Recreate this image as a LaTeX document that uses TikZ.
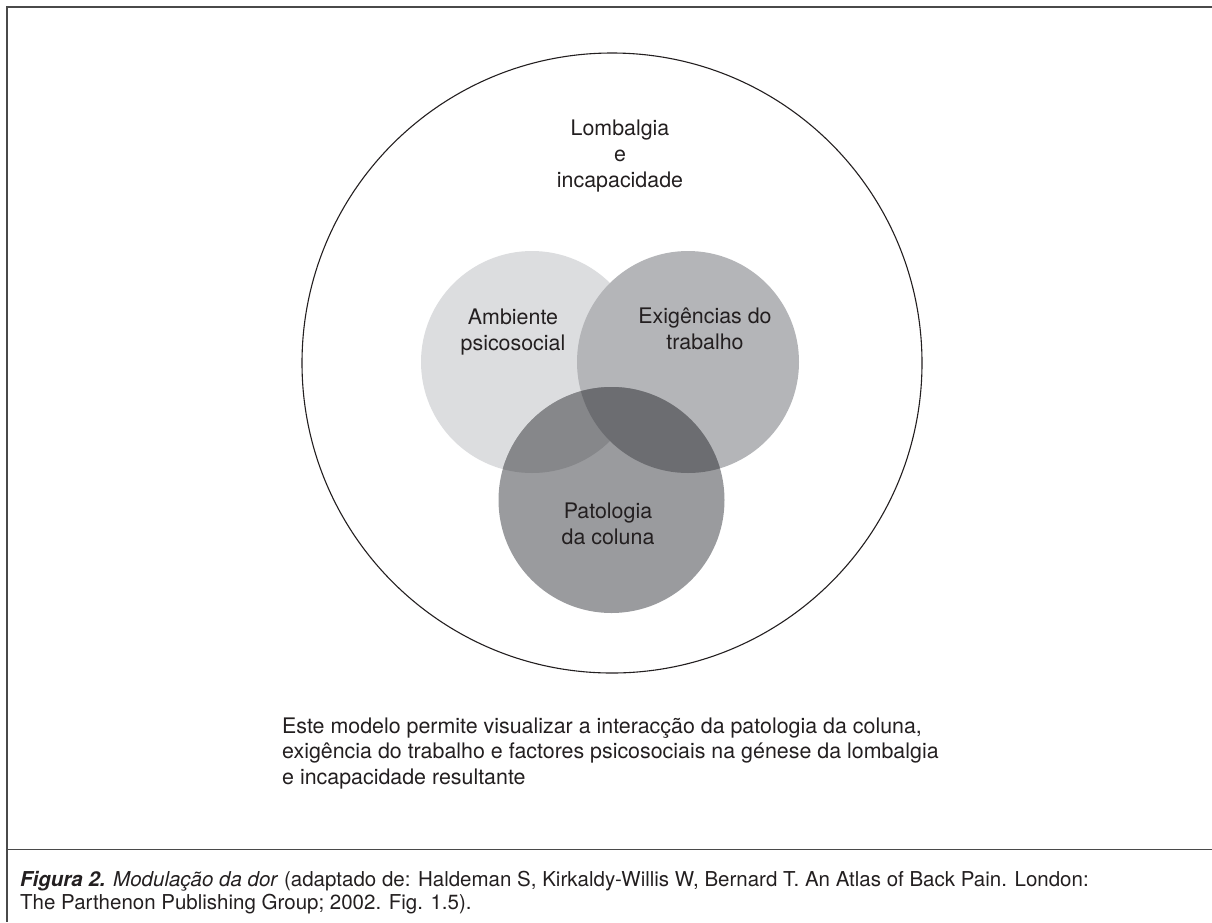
\documentclass[tikz,border=0pt]{standalone}
\usepackage{fontspec}
\setmainfont{TeX Gyre Heros}
\definecolor{txt}{HTML}{231F20}
\definecolor{frame}{HTML}{4A4A4A}
\definecolor{cA}{HTML}{DCDDDF}
\definecolor{cE}{HTML}{B4B5B8}
\definecolor{cP}{HTML}{9A9B9E}
\definecolor{cAP}{HTML}{86878A}
\definecolor{cEP}{HTML}{6C6D71}
\tikzset{
  lbl/.style={font=\fontsize{21.4}{26}\selectfont, text=txt, align=center, inner sep=0pt, anchor=base},
  para/.style={font=\fontsize{21.4}{25.5}\selectfont, text=txt, align=left, inner sep=0pt, anchor=base west},
  captxt/.style={font=\fontsize{20.5}{23}\selectfont, text=txt, align=left, inner sep=0pt, anchor=base west},
  rule/.style={draw=frame, line width=1.6pt}
}
\begin{document}
\begin{tikzpicture}[x=1pt,y=-1pt]
\useasboundingbox (0,0) rectangle (1212,922);
% frame
\coordinate (tl) at (7,7);
\coordinate (tr) at (1212,7);
\coordinate (bl) at (7,922);
\coordinate (dl) at (7,849.5);
\coordinate (dr) at (1212,849.5);
\draw[rule] (tr) -- (tl) -- (bl);
\draw[rule, line width=1.3pt] (dl) -- (dr);
% circles
\coordinate (O) at (612,363);
\coordinate (A) at (532,362);
\coordinate (E) at (688,362);
\coordinate (P) at (611.5,500);
\draw[draw=txt, line width=1.1pt] (O) circle[radius=310pt];
\fill[cA] (A) circle[radius=111pt];
\fill[cE] (E) circle[radius=111pt];
\fill[cP] (P) circle[radius=113pt];
\begin{scope}
  \clip (P) circle[radius=113pt];
  \fill[cAP] (A) circle[radius=111pt];
  \fill[cEP] (E) circle[radius=111pt];
\end{scope}
% labels (base anchor = baseline of last line)
\node[lbl] (lomb) at (620,187) {Lombalgia\\e\\incapacidade};
\node[lbl] (amb) at (513,350) {Ambiente\\psicosocial};
\node[lbl] (exi) at (705,349) {Exigências do\\trabalho};
\node[lbl] (pat) at (608,544) {Patologia\\da coluna};
\node[para] (desc) at (282,784) {Este modelo permite visualizar a interacção da patologia da coluna,\\exigência do trabalho e factores psicosociais na génese da lombalgia\\e incapacidade resultante};
\node[captxt] (capt) at (20,909) {\textbf{\textit{Figura 2.}} \textit{Modulação da dor} (adaptado de: Haldeman S, Kirkaldy-Willis W, Bernard T. An Atlas of Back Pain. London:\\The Parthenon Publishing Group; 2002. Fig. 1.5).};
\end{tikzpicture}
\end{document}
